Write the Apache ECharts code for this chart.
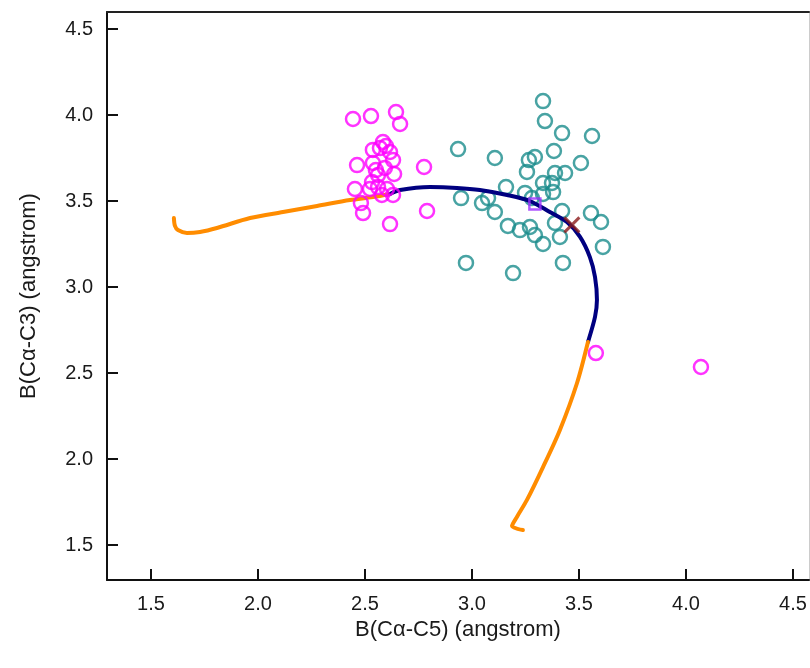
<!DOCTYPE html>
<html>
<head>
<meta charset="utf-8">
<script src="https://cdn.jsdelivr.net/npm/echarts@6/dist/echarts.min.js"></script>
<style>html,body{margin:0;padding:0;background:#fff}#c{width:810px;height:668px}</style>
</head>
<body>
<div id="c"></div>
<script>
var xTicks = [1.5, 2.0, 2.5, 3.0, 3.5, 4.0, 4.5];
var yTicks = [1.5, 2.0, 2.5, 3.0, 3.5, 4.0, 4.5];

var magentaPts = [
  [2.444,3.977],[2.528,3.994],[2.645,4.017],[2.664,3.948],[2.584,3.843],[2.598,3.820],
  [2.537,3.797],[2.570,3.808],[2.617,3.785],[2.463,3.709],[2.537,3.721],[2.631,3.738],
  [2.776,3.698],[2.561,3.651],[2.636,3.657],[2.533,3.610],[2.453,3.570],[2.523,3.570],
  [2.603,3.570],[2.579,3.535],[2.631,3.535],[2.481,3.488],[2.491,3.430],[2.790,3.442],
  [2.617,3.366],[2.551,3.680],[2.593,3.692],[2.561,3.581],[3.579,2.616],[4.070,2.535]
];
var tealPts = [
  [3.332,4.081],[3.341,3.965],[3.421,3.895],[3.561,3.878],[2.935,3.802],[3.107,3.750],
  [3.383,3.791],[3.266,3.738],[3.294,3.756],[3.509,3.721],[3.257,3.669],[3.388,3.663],
  [3.435,3.663],[3.159,3.581],[3.332,3.605],[3.374,3.605],[3.379,3.552],[3.248,3.547],
  [3.332,3.541],[3.280,3.517],[2.949,3.517],[3.047,3.488],[3.075,3.517],[3.107,3.436],
  [3.421,3.442],[3.556,3.430],[3.603,3.378],[3.388,3.372],[3.168,3.355],[3.224,3.331],
  [3.271,3.349],[3.294,3.302],[3.332,3.250],[3.411,3.291],[3.612,3.233],[2.972,3.140],
  [3.425,3.140],[3.192,3.081]
];
var orangeLeft = [
  [1.607,3.401],[1.612,3.355],[1.626,3.331],[1.668,3.314],[1.729,3.320],[1.808,3.343],
  [1.963,3.401],[2.117,3.436],[2.276,3.471],[2.430,3.506],[2.537,3.523],[2.617,3.541]
];
var navyPath = [
  [2.617,3.541],[2.664,3.564],[2.804,3.581],[2.930,3.576],[3.037,3.564],[3.164,3.535],
  [3.271,3.500],[3.364,3.436],[3.444,3.378],[3.505,3.291],[3.551,3.174],[3.575,3.058],
  [3.584,2.924],[3.575,2.826],[3.542,2.680]
];
var orangeRight = [
  [3.542,2.680],[3.491,2.442],[3.411,2.169],[3.332,1.953],[3.257,1.762],[3.210,1.663],
  [3.187,1.610],[3.238,1.587]
];
var squarePt = [[3.294,3.483]];
var crossPt = [[3.467,3.361]];

var chart = echarts.init(document.getElementById('c'));
var font = '"Liberation Sans", Arial, sans-serif';
function lineSeries(data, color) {
  return {type:'line', data:data, showSymbol:false, symbol:'none', smooth:0.3, z:3,
    lineStyle:{color:color, width:4, cap:'round', join:'round'}, silent:true};
}
chart.setOption({
  animation:false,
  grid:{left:107, right:1, top:12, bottom:88},
  xAxis:[{
    type:'value', min:1.2944, max:4.575, position:'bottom',
    axisLine:{show:true, onZero:false, lineStyle:{color:'#111', width:2}},
    axisTick:{show:true, inside:true, length:11, customValues:xTicks, lineStyle:{color:'#111', width:2}},
    axisLabel:{customValues:xTicks, formatter:function(v){return v.toFixed(1);}, color:'#1a1a1a', fontSize:20, fontFamily:font, margin:14},
    splitLine:{show:false},
    name:'B(C\u03b1-C5) (angstrom)', nameLocation:'middle', nameGap:38,
    nameTextStyle:{fontSize:22, color:'#1a1a1a', fontFamily:font}
  },{
    type:'value', min:1.2944, max:4.575, position:'top',
    axisLine:{show:true, onZero:false, lineStyle:{color:'#222', width:2}},
    axisTick:{show:false}, axisLabel:{show:false}, splitLine:{show:false}
  }],
  yAxis:[{
    type:'value', min:1.2965, max:4.599, position:'left',
    axisLine:{show:true, onZero:false, lineStyle:{color:'#111', width:2}},
    axisTick:{show:true, inside:true, length:11, customValues:yTicks, lineStyle:{color:'#111', width:2}},
    axisLabel:{customValues:yTicks, formatter:function(v){return v.toFixed(1);}, color:'#1a1a1a', fontSize:20, fontFamily:font, margin:14},
    splitLine:{show:false},
    name:'B(C\u03b1-C3) (angstrom)', nameLocation:'middle', nameGap:67,
    nameTextStyle:{fontSize:22, color:'#1a1a1a', fontFamily:font}
  },{
    type:'value', min:1.2965, max:4.599, position:'right',
    axisLine:{show:true, onZero:false, lineStyle:{color:'#ccc', width:1}},
    axisTick:{show:false}, axisLabel:{show:false}, splitLine:{show:false}
  }],
  series:[
    {type:'scatter', data:tealPts, symbol:'circle', symbolSize:14, z:2,
      itemStyle:{color:'rgba(0,0,0,0)', borderColor:'#1a8c8c', borderWidth:2.5}},
    lineSeries(orangeLeft, '#ff8c00'),
    lineSeries(navyPath, '#000080'),
    lineSeries(orangeRight, '#ff8c00'),
    {type:'scatter', data:magentaPts, symbol:'circle', symbolSize:14, z:4,
      itemStyle:{color:'rgba(0,0,0,0)', borderColor:'#ff00ff', borderWidth:2.5}},
    {type:'scatter', data:squarePt, symbol:'rect', symbolSize:11, z:5,
      itemStyle:{color:'rgba(0,0,0,0)', borderColor:'#9b30ff', borderWidth:2.5}},
    {type:'scatter', data:crossPt, symbol:'path://M0,0L10,10M10,0L0,10', symbolSize:15, z:5,
      itemStyle:{color:'rgba(0,0,0,0)', borderColor:'#8b1a1a', borderWidth:3}}
  ]
});
</script>
</body>
</html>
